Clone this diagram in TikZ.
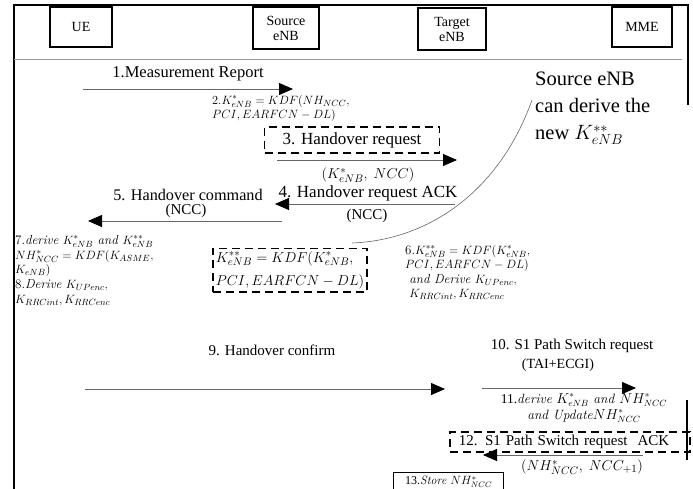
\documentclass[tikz,border=0pt]{standalone}
\usepackage[no-math]{fontspec}
\newfontfamily\tnr{Liberation Serif}
\usetikzlibrary{arrows.meta, positioning, calc}

\begin{document}
\begin{tikzpicture}[
    x=1pt, y=-1pt,
    ent/.style={rectangle, draw=black, line width=1.4pt, minimum width=62pt, minimum height=40pt, align=center, inner sep=1pt, font=\tnr\fontsize{14}{15}\selectfont},
    lbl/.style={inner sep=1pt, font=\tnr\fontsize{15}{16}\selectfont},
    big/.style={inner sep=1pt, font=\tnr\fontsize{17}{18}\selectfont},
    eq/.style={anchor=north west, align=left, inner sep=0pt, font=\fontsize{13}{14}\selectfont},
    dbox/.style={rectangle, draw=black, line width=1.6pt, dash pattern=on 8pt off 5pt},
    msg/.style={draw=black!60, line width=0.8pt, -{Triangle[length=14pt, width=12pt, color=black]}},
  ]
    \useasboundingbox (0,0) rectangle (693,489);
    % frame
    \draw[line width=2.5pt] (14,489) -- (14,5) -- (688,5) -- (688,105);
    \draw[line width=2.5pt] (687,400) -- (687,460);

    % entities
    \node[ent] (ue) at (81,27) {UE};
    \node[ent, minimum width=66pt, minimum height=42pt] (src) at (286,28) {Source\\eNB};
    \node[ent, minimum width=68pt, minimum height=42pt] (tgt) at (452,29) {Target\\eNB};
    \node[ent, minimum width=60pt] (mme) at (642,27) {MME};
    \draw[black!40, line width=0.8pt] (14,59) -- (682,59);

    % 1
    \coordinate (m1a) at (83,89);
    \coordinate (m1b) at (293,89);
    \draw[msg] (m1a) -- (m1b);
    \node[lbl, font=\tnr\fontsize{16.5}{17}\selectfont] (meas) at (188,74) {1.Measurement Report};

    % 2
    \node[eq, font=\fontsize{12.3}{14}\selectfont] (kdfa) at (212,95) {2.$K^*_{eNB} = KDF(NH_{NCC},$\\$PCI, EARFCN - DL)$};

    % 3
    \node[dbox, big, minimum width=175pt, minimum height=26pt] (horeq) at (352,140) {3. Handover request};
    \coordinate (m3a) at (277,160);
    \coordinate (m3b) at (457,160);
    \draw[msg] (m3a) -- (m3b);
    \node[lbl] (horeqp) at (368,175) {$(K^*_{eNB},\ NCC)$};

    % 4
    \node[big] (hoack) at (368,193) {4. Handover request ACK};
    \coordinate (m4a) at (455,204);
    \coordinate (m4b) at (275,204);
    \draw[msg] (m4a) -- (m4b);
    \node[lbl] (hoackp) at (367,216) {(NCC)};

    % 5
    \node[big, font=\tnr\fontsize{16.2}{17}\selectfont] (hocmd) at (188,195) {5. Handover command};
    \node[lbl] (hocmdp) at (186,211) {(NCC)};
    \coordinate (m5a) at (282,221);
    \coordinate (m5b) at (88,221);
    \draw[msg] (m5a) -- (m5b);

    % note
    \node[anchor=north west, align=left, inner sep=0pt, font=\tnr\fontsize{20.5}{27}\selectfont] (note) at (535,72) {Source eNB\\can derive the\\new $K^{**}_{eNB}$};

    % K** box
    \node[dbox, align=left, inner sep=3pt, font=\fontsize{15}{23}\selectfont] (kbox) at (290,270) {$K^{**}_{eNB} = KDF(K^*_{eNB},$\\$PCI, EARFCN - DL)$};
    \coordinate (cva) at (352,243);
    \coordinate (cvb) at (532,100);
    \draw[black!60, line width=0.6pt] (cva) .. controls (430,240) and (500,190) .. (cvb);

    % 6
    \node[eq, font=\fontsize{13}{14.5}\selectfont] (kdfb) at (405,245) {6.$K^{**}_{eNB} = KDF(K^*_{eNB},$\\$PCI, EARFCN - DL)$\\\ \textit{and Derive} $K_{UPenc},$\\\ $K_{RRCint}, K_{RRCenc}$};

    % 7, 8
    \node[eq, font=\fontsize{13}{14.8}\selectfont] (kdfc) at (15,235) {7.\textit{derive} $K^*_{eNB}$ \textit{and} $K^{**}_{eNB}$\\$NH^*_{NCC} = KDF(K_{ASME},$\\$K_{eNB})$\\8.\textit{Derive} $K_{UPenc},$\\$K_{RRCint}, K_{RRCenc}$};

    % 9
    \node[lbl] (hocnf) at (272,350) {9. Handover confirm};
    \coordinate (m9a) at (85,389);
    \coordinate (m9b) at (445,389);
    \draw[msg] (m9a) -- (m9b);

    % 10
    \node[lbl] (psreq) at (572,346) {10. S1 Path Switch request};
    \node[lbl, font=\tnr\fontsize{14}{15}\selectfont] (psreqp) at (558,365) {(TAI+ECGI)};
    \coordinate (m10a) at (482,388);
    \coordinate (m10b) at (636,388);
    \draw[msg] (m10a) -- (m10b);

    % 11
    \node[align=center, inner sep=0pt, font=\fontsize{13.5}{16}\selectfont] (upd) at (584,408) {{\tnr 11.}\textit{derive} $K^*_{eNB}$ \textit{and} $NH^*_{NCC}$\\\textit{and Update}$NH^*_{NCC}$};

    % 12
    \node[dbox, lbl, anchor=west, align=left, text width=222pt, inner xsep=9pt, minimum height=20pt] (psack) at (449,442) {12. S1 Path Switch request\ \ ACK};
    \coordinate (m12a) at (643,455);
    \coordinate (m12b) at (483,455);
    \draw[msg] (m12a) -- (m12b);
    \node[lbl] (psackp) at (582,467) {$(NH^*_{NCC},\ NCC_{+1})$};

    % 13
    \node[rectangle, draw=black, line width=1.4pt, anchor=north west, minimum width=110pt, minimum height=18pt, inner sep=0.5pt, font=\fontsize{12}{12.5}\selectfont] (store) at (393,472) {{\tnr 13.}\textit{Store} $NH^*_{NCC}$};
  \end{tikzpicture}
\end{document}
